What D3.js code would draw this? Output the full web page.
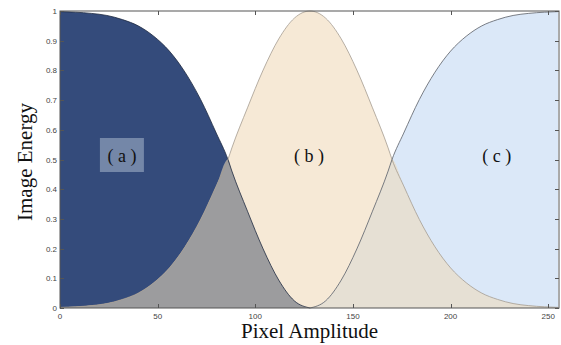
<!DOCTYPE html>
<html><head><meta charset="utf-8">
<script src="https://cdn.jsdelivr.net/npm/d3@7"></script>
<style>body{margin:0;background:#fff}svg{display:block}</style>
</head><body>
<svg id="c" width="561" height="345"></svg>
<script>
// Pixel amplitude sample points
const xs = [0,8,16,24,32,40,48,56,64,72,80,86,88,96,104,112,120,128,136,144,152,160,168,170,176,184,192,200,208,216,224,232,240,248,255];
// (b) middle bell curve
const bVals = [0.002,0.004,0.008,0.015,0.029,0.05,0.085,0.135,0.206,0.298,0.411,0.5,0.539,0.674,0.801,0.906,0.976,1.0,0.976,0.906,0.801,0.674,0.539,0.5,0.411,0.298,0.206,0.135,0.085,0.05,0.029,0.015,0.008,0.004,0.002];
// (a) dark falling curve
const aVals = [0.998,0.996,0.992,0.985,0.971,0.95,0.915,0.865,0.794,0.702,0.589,0.5,0.461,0.326,0.199,0.094,0.024,0,0,0,0,0,0,0,0,0,0,0,0,0,0,0,0,0,0];
// (c) light rising curve
const cVals = [0,0,0,0,0,0,0,0,0,0,0,0,0,0,0,0,0,0,0.024,0.094,0.199,0.326,0.461,0.5,0.589,0.702,0.794,0.865,0.915,0.95,0.971,0.985,0.992,0.996,0.998];
const xTicks = [0,50,100,150,200,250];
const yTicks = [0,0.1,0.2,0.3,0.4,0.5,0.6,0.7,0.8,0.9,1];
const labels = [{t:"( a )", x:31.7, y:0.5, box:true},{t:"( b )", x:127.5, y:0.5},{t:"( c )", x:223.6, y:0.5}];

const svg = d3.select("#c");
const L=60, R=559, T=11, B=308;
const x = d3.scaleLinear().domain([0,255.5]).range([L,R]);
const y = d3.scaleLinear().domain([0,1]).range([B,T]);
const pts = xs.map((v,i)=>({x:v,a:aVals[i],b:bVals[i],c:cVals[i]}));

function area(f){ return d3.area().x(d=>x(d.x)).y0(y(0)).y1(d=>y(f(d))).curve(d3.curveMonotoneX)(pts); }
function line(f, data){ return d3.line().x(d=>x(d.x)).y(d=>y(f(d))).curve(d3.curveMonotoneX)(data); }

svg.append("path").attr("d",area(d=>d.a)).attr("fill","#344b7b");
svg.append("path").attr("d",area(d=>d.b)).attr("fill","#f6e9d6");
svg.append("path").attr("d",area(d=>d.c)).attr("fill","#dbe8f8");
svg.append("path").attr("d",area(d=>Math.min(d.a,d.b))).attr("fill","#9c9c9e");
svg.append("path").attr("d",area(d=>Math.min(d.b,d.c))).attr("fill","#e6e0d4");

svg.append("path").attr("d",line(d=>d.a, pts.filter(d=>d.x<=128))).attr("fill","none").attr("stroke","#1e2a40").attr("stroke-width",0.8);
svg.append("path").attr("d",line(d=>d.b, pts)).attr("fill","none").attr("stroke","#a49c90").attr("stroke-width",0.8);
svg.append("path").attr("d",line(d=>d.c, pts.filter(d=>d.x>=128))).attr("fill","none").attr("stroke","#5a5e66").attr("stroke-width",0.8);

// labels
labels.forEach(l=>{
  if(l.box){
    svg.append("rect").attr("x",x(l.x)-22).attr("y",y(l.y)-21.5).attr("width",44).attr("height",34).attr("fill","#7487a8");
  }
  svg.append("text").attr("x",x(l.x)).attr("y",y(l.y)+2.5).attr("text-anchor","middle")
    .attr("font-family","Liberation Serif, serif").attr("font-size",18).attr("fill","#111").text(l.t);
});

// frame
svg.append("rect").attr("x",L).attr("y",T).attr("width",R-L).attr("height",B-T).attr("fill","none").attr("stroke","#555").attr("stroke-width",1);

const tk = svg.append("g").attr("stroke","#555").attr("stroke-width",1);
xTicks.forEach(t=>{
  const px=Math.round(x(t))+0.5;
  tk.append("line").attr("x1",px).attr("x2",px).attr("y1",B).attr("y2",B-4);
  tk.append("line").attr("x1",px).attr("x2",px).attr("y1",T).attr("y2",T+4);
});
yTicks.forEach(t=>{
  const py=Math.round(y(t))+0.5;
  tk.append("line").attr("x1",L).attr("x2",L+4).attr("y1",py).attr("y2",py);
  tk.append("line").attr("x1",R).attr("x2",R-4).attr("y1",py).attr("y2",py);
});
const fnt = "Liberation Sans, Arial, sans-serif";
xTicks.forEach(t=>{
  svg.append("text").attr("x",x(t)).attr("y",B+10.5).attr("text-anchor","middle")
    .attr("font-family",fnt).attr("font-size",8).attr("fill","#444").text(t);
});
yTicks.forEach(t=>{
  svg.append("text").attr("x",L-3).attr("y",y(t)+3).attr("text-anchor","end")
    .attr("font-family",fnt).attr("font-size",8).attr("fill","#444").text(t);
});

svg.append("text").attr("x",(L+R)/2).attr("y",338).attr("text-anchor","middle")
  .attr("font-family","Liberation Serif, serif").attr("font-size",21).attr("fill","#111").text("Pixel Amplitude");
svg.append("text").attr("transform","translate(32,162) rotate(-90)").attr("text-anchor","middle")
  .attr("font-family","Liberation Serif, serif").attr("font-size",21).attr("fill","#111").text("Image Energy");
</script>
</body></html>
